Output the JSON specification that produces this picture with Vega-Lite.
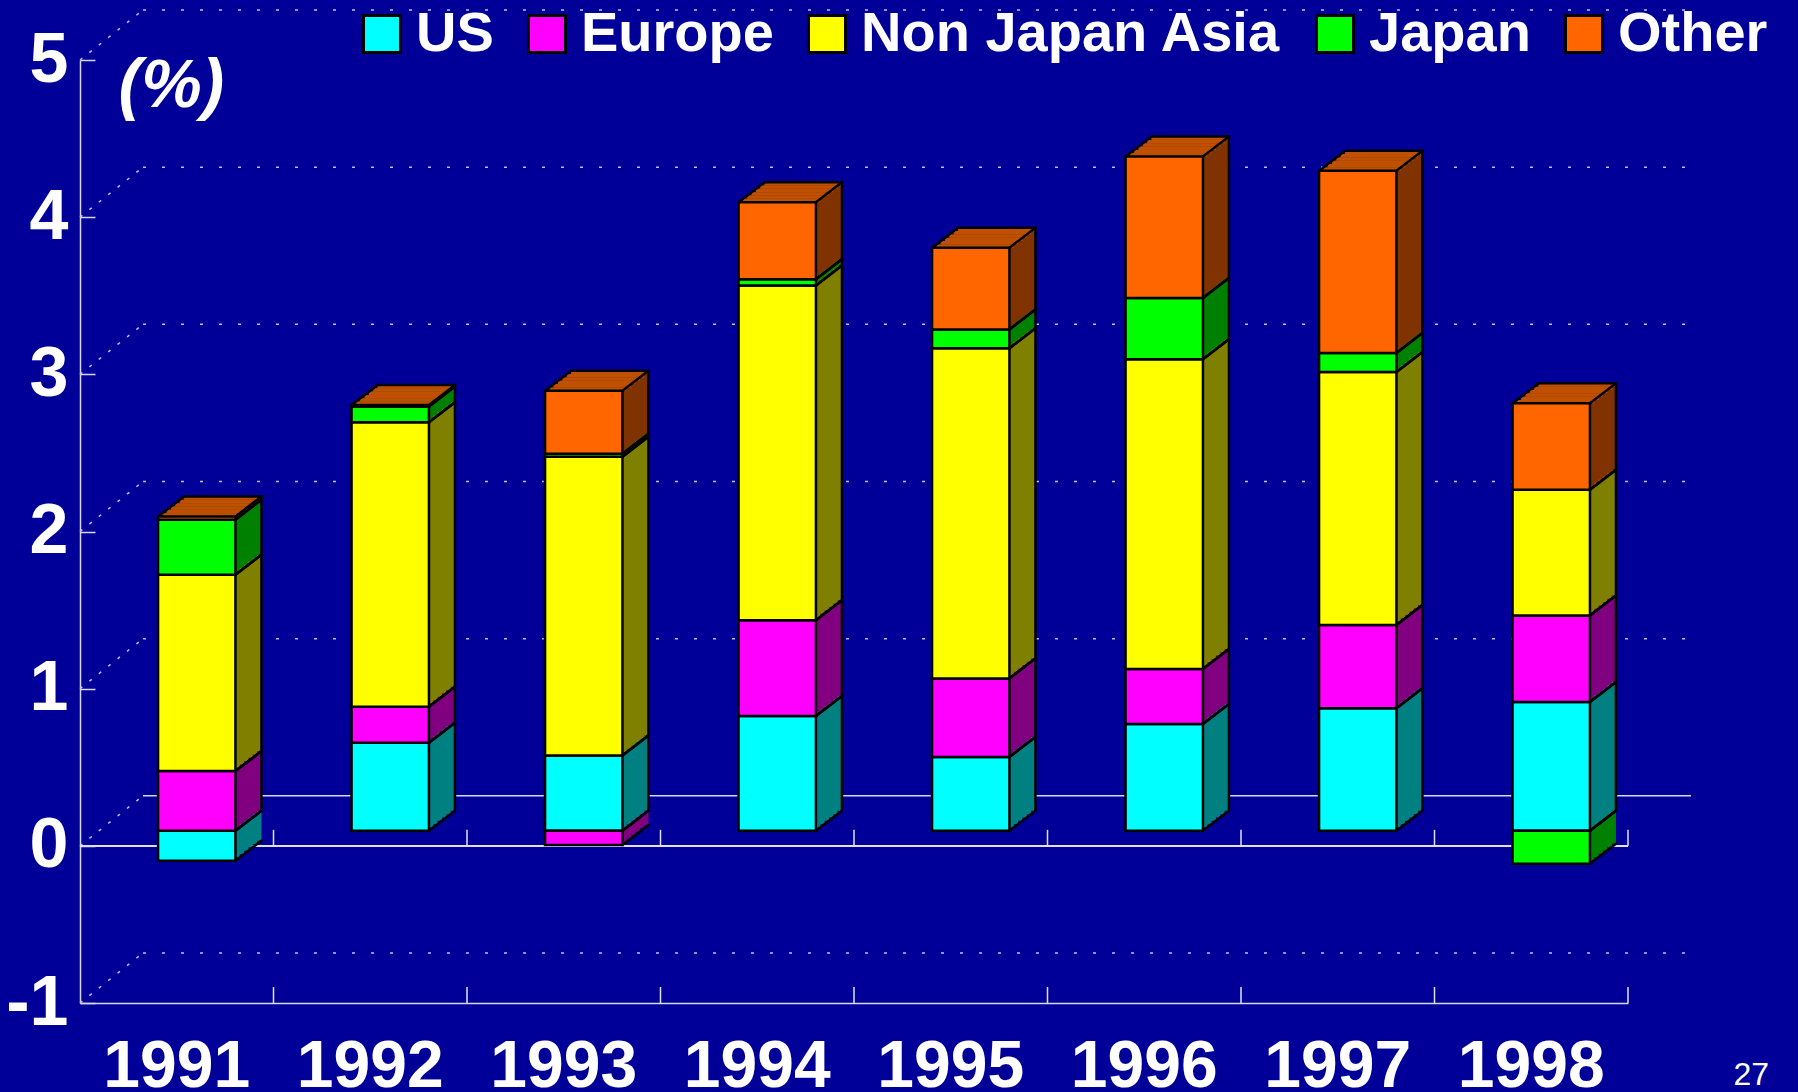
{
  "$schema": "https://vega.github.io/schema/vega-lite/v6.json",
  "width": 1548,
  "height": 943,
  "autosize": {"type": "none"},
  "padding": {"left": 80, "top": 60, "right": 170, "bottom": 89},
  "background": "#000099",
  "config": {
    "view": {"stroke": null},
    "font": "Liberation Sans",
    "axisX": {"labelAngle": 0, "labelFontSize": 66, "labelFont": "Liberation Sans", "labelFontWeight": "bold", "labelColor": "white", "ticks": false, "domain": true, "domainColor": "#d8d8ec", "domainWidth": 1.5, "labelPadding": 83, "labelBaseline": "alphabetic", "grid": false},
    "axisY": {"labelFontSize": 70, "labelFont": "Liberation Sans", "labelFontWeight": "bold", "labelColor": "white", "tickSize": -15, "tickColor": "#d8d8ec", "tickWidth": 1.5, "labelPadding": 27, "domainColor": "#d8d8ec", "domainWidth": 1.5, "grid": false, "labelFlush": false, "labelOverlap": false, "titleAngle": 0, "titleX": 38, "titleY": 46, "titleAlign": "left", "titleBaseline": "alphabetic", "titleFontSize": 68, "titleFontStyle": "italic", "titleFontWeight": "bold", "titleColor": "white", "titleFont": "Liberation Sans"}
  },
  "title": {"text": "27", "orient": "bottom", "anchor": "end", "frame": "group", "fontSize": 32, "font": "Liberation Sans", "fontWeight": "normal", "color": "white", "dx": 141, "dy": -43, "baseline": "top"},
  "data": {"values": [
    {"year": "1991", "region": "US", "v": -0.19},
    {"year": "1991", "region": "Europe", "v": 0.38},
    {"year": "1991", "region": "Non Japan Asia", "v": 1.25},
    {"year": "1991", "region": "Japan", "v": 0.35},
    {"year": "1991", "region": "Other", "v": 0.02},
    {"year": "1992", "region": "US", "v": 0.56},
    {"year": "1992", "region": "Europe", "v": 0.23},
    {"year": "1992", "region": "Non Japan Asia", "v": 1.81},
    {"year": "1992", "region": "Japan", "v": 0.10},
    {"year": "1992", "region": "Other", "v": 0.01},
    {"year": "1993", "region": "US", "v": 0.48},
    {"year": "1993", "region": "Europe", "v": -0.09},
    {"year": "1993", "region": "Non Japan Asia", "v": 1.90},
    {"year": "1993", "region": "Japan", "v": 0.02},
    {"year": "1993", "region": "Other", "v": 0.40},
    {"year": "1994", "region": "US", "v": 0.73},
    {"year": "1994", "region": "Europe", "v": 0.61},
    {"year": "1994", "region": "Non Japan Asia", "v": 2.13},
    {"year": "1994", "region": "Japan", "v": 0.04},
    {"year": "1994", "region": "Other", "v": 0.49},
    {"year": "1995", "region": "US", "v": 0.47},
    {"year": "1995", "region": "Europe", "v": 0.50},
    {"year": "1995", "region": "Non Japan Asia", "v": 2.10},
    {"year": "1995", "region": "Japan", "v": 0.12},
    {"year": "1995", "region": "Other", "v": 0.52},
    {"year": "1996", "region": "US", "v": 0.68},
    {"year": "1996", "region": "Europe", "v": 0.35},
    {"year": "1996", "region": "Non Japan Asia", "v": 1.97},
    {"year": "1996", "region": "Japan", "v": 0.39},
    {"year": "1996", "region": "Other", "v": 0.90},
    {"year": "1997", "region": "US", "v": 0.78},
    {"year": "1997", "region": "Europe", "v": 0.53},
    {"year": "1997", "region": "Non Japan Asia", "v": 1.61},
    {"year": "1997", "region": "Japan", "v": 0.12},
    {"year": "1997", "region": "Other", "v": 1.16},
    {"year": "1998", "region": "US", "v": 0.82},
    {"year": "1998", "region": "Europe", "v": 0.55},
    {"year": "1998", "region": "Non Japan Asia", "v": 0.80},
    {"year": "1998", "region": "Japan", "v": -0.21},
    {"year": "1998", "region": "Other", "v": 0.55}
  ]},
  "transform": [
    {"calculate": "indexof(['US','Europe','Non Japan Asia','Japan','Other'], datum.region)", "as": "k"},
    {"stack": "v", "groupby": ["year"], "sort": [{"field": "k", "order": "ascending"}], "as": ["v0", "v1"], "offset": "zero"}
  ],
  "layer": [
    {
      "data": {"values": [{"g": -1}, {"g": 1}, {"g": 2}, {"g": 3}, {"g": 4}, {"g": 5}]},
      "transform": [],
      "mark": {"type": "rule", "color": "#c0c0e0", "strokeWidth": 1.5, "strokeDash": [3, 16], "xOffset": 63, "x2Offset": 63, "yOffset": -50},
      "encoding": {
        "x": {"datum": "1991", "type": "nominal", "bandPosition": -0.75},
        "x2": {"datum": "1998", "bandPosition": 1.75},
        "y": {"field": "g", "type": "quantitative", "scale": {"domain": [-1, 5], "nice": false, "zero": false}}
      }
    },
    {
      "data": {"values": [{"g": 0}]},
      "transform": [],
      "mark": {"type": "rule", "color": "#d8d8ec", "strokeWidth": 1.5, "xOffset": 63, "x2Offset": 63, "yOffset": -50},
      "encoding": {
        "x": {"datum": "1991", "type": "nominal", "bandPosition": -0.75},
        "x2": {"datum": "1998", "bandPosition": 1.75},
        "y": {"field": "g", "type": "quantitative", "scale": {"domain": [-1, 5], "nice": false, "zero": false}}
      }
    },
    {
      "data": {"values": [{"g": -1}, {"g": 0}, {"g": 1}, {"g": 2}, {"g": 3}, {"g": 4}, {"g": 5}]},
      "transform": [],
      "mark": {"type": "rule", "color": "#c0c0e0", "strokeWidth": 1.5, "strokeDash": [3, 9], "x2Offset": 63, "y2Offset": -50},
      "encoding": {
        "x": {"datum": "1991", "type": "nominal", "bandPosition": -0.75},
        "x2": {"datum": "1991", "bandPosition": -0.75},
        "y": {"field": "g", "type": "quantitative", "scale": {"domain": [-1, 5], "nice": false, "zero": false}},
        "y2": {"field": "g"}
      }
    },
    {
      "mark": {"type": "rule", "color": "#e0e0f0", "strokeWidth": 1.5},
      "encoding": {"y": {"datum": 0, "type": "quantitative", "scale": {"domain": [-1, 5], "nice": false, "zero": false}}}
    },
    {
      "transform": [{"aggregate": [{"op": "max", "field": "v1", "as": "top"}], "groupby": ["year"]}],
      "mark": {"type": "rule", "color": "#e0e0f0", "strokeWidth": 1.5, "y2Offset": -16},
      "encoding": {
        "x": {"field": "year", "type": "nominal", "bandPosition": 1.75, "scale": {"paddingInner": 0.6, "paddingOuter": 0.3}},
        "y": {"datum": -1, "type": "quantitative", "scale": {"domain": [-1, 5], "nice": false, "zero": false}},
        "y2": {"datum": -1}
      }
    },
    {
      "transform": [{"aggregate": [{"op": "max", "field": "v1", "as": "top"}], "groupby": ["year"]}],
      "mark": {"type": "rule", "color": "#e0e0f0", "strokeWidth": 1.5, "y2Offset": -16},
      "encoding": {
        "x": {"field": "year", "type": "nominal", "bandPosition": 1.75},
        "y": {"datum": 0, "type": "quantitative", "scale": {"domain": [-1, 5], "nice": false, "zero": false}},
        "y2": {"datum": 0}
      }
    },
    {
      "mark": {"type": "bar", "xOffset": 46, "yOffset": -35, "y2Offset": -35, "strokeWidth": 0},
      "encoding": {
        "x": {"field": "year", "type": "nominal"},
        "y": {"field": "v1", "type": "quantitative", "scale": {"domain": [-1, 5], "nice": false, "zero": false}},
        "y2": {"field": "v0"},
        "fill": {"field": "region", "type": "nominal", "legend": null, "scale": {"domain": ["Europe", "Japan", "Non Japan Asia", "Other", "US"], "range": ["#800080", "#008000", "#808000", "#803300", "#008080"]}}
      }
    },
    {
      "mark": {"type": "bar", "xOffset": 41.67, "yOffset": -31.67, "y2Offset": -31.67, "strokeWidth": 0},
      "encoding": {
        "x": {"field": "year", "type": "nominal"},
        "y": {"field": "v1", "type": "quantitative", "scale": {"domain": [-1, 5], "nice": false, "zero": false}},
        "y2": {"field": "v0"},
        "fill": {"field": "region", "type": "nominal", "legend": null}
      }
    },
    {
      "mark": {"type": "bar", "xOffset": 37.33, "yOffset": -28.33, "y2Offset": -28.33, "strokeWidth": 0},
      "encoding": {
        "x": {"field": "year", "type": "nominal"},
        "y": {"field": "v1", "type": "quantitative", "scale": {"domain": [-1, 5], "nice": false, "zero": false}},
        "y2": {"field": "v0"},
        "fill": {"field": "region", "type": "nominal", "legend": null}
      }
    },
    {
      "mark": {"type": "bar", "xOffset": 33, "yOffset": -25, "y2Offset": -25, "strokeWidth": 0},
      "encoding": {
        "x": {"field": "year", "type": "nominal"},
        "y": {"field": "v1", "type": "quantitative", "scale": {"domain": [-1, 5], "nice": false, "zero": false}},
        "y2": {"field": "v0"},
        "fill": {"field": "region", "type": "nominal", "legend": null}
      }
    },
    {
      "mark": {"type": "bar", "xOffset": 28.67, "yOffset": -21.67, "y2Offset": -21.67, "strokeWidth": 0},
      "encoding": {
        "x": {"field": "year", "type": "nominal"},
        "y": {"field": "v1", "type": "quantitative", "scale": {"domain": [-1, 5], "nice": false, "zero": false}},
        "y2": {"field": "v0"},
        "fill": {"field": "region", "type": "nominal", "legend": null}
      }
    },
    {
      "mark": {"type": "bar", "xOffset": 24.33, "yOffset": -18.33, "y2Offset": -18.33, "strokeWidth": 0},
      "encoding": {
        "x": {"field": "year", "type": "nominal"},
        "y": {"field": "v1", "type": "quantitative", "scale": {"domain": [-1, 5], "nice": false, "zero": false}},
        "y2": {"field": "v0"},
        "fill": {"field": "region", "type": "nominal", "legend": null}
      }
    },
    {
      "transform": [{"aggregate": [{"op": "max", "field": "v1", "as": "top"}], "groupby": ["year"]}],
      "mark": {"type": "bar", "color": "#BF5000", "xOffset": 46, "yOffset": -35, "y2Offset": -31.67, "strokeWidth": 0},
      "encoding": {
        "x": {"field": "year", "type": "nominal"},
        "y": {"field": "top", "type": "quantitative", "scale": {"domain": [-1, 5], "nice": false, "zero": false}},
        "y2": {"field": "top"}
      }
    },
    {
      "transform": [{"aggregate": [{"op": "max", "field": "v1", "as": "top"}], "groupby": ["year"]}],
      "mark": {"type": "bar", "color": "#BF5000", "xOffset": 41.67, "yOffset": -31.67, "y2Offset": -28.33, "strokeWidth": 0},
      "encoding": {
        "x": {"field": "year", "type": "nominal"},
        "y": {"field": "top", "type": "quantitative", "scale": {"domain": [-1, 5], "nice": false, "zero": false}},
        "y2": {"field": "top"}
      }
    },
    {
      "transform": [{"aggregate": [{"op": "max", "field": "v1", "as": "top"}], "groupby": ["year"]}],
      "mark": {"type": "bar", "color": "#BF5000", "xOffset": 37.33, "yOffset": -28.33, "y2Offset": -25, "strokeWidth": 0},
      "encoding": {
        "x": {"field": "year", "type": "nominal"},
        "y": {"field": "top", "type": "quantitative", "scale": {"domain": [-1, 5], "nice": false, "zero": false}},
        "y2": {"field": "top"}
      }
    },
    {
      "transform": [{"aggregate": [{"op": "max", "field": "v1", "as": "top"}], "groupby": ["year"]}],
      "mark": {"type": "bar", "color": "#BF5000", "xOffset": 33, "yOffset": -25, "y2Offset": -21.67, "strokeWidth": 0},
      "encoding": {
        "x": {"field": "year", "type": "nominal"},
        "y": {"field": "top", "type": "quantitative", "scale": {"domain": [-1, 5], "nice": false, "zero": false}},
        "y2": {"field": "top"}
      }
    },
    {
      "transform": [{"aggregate": [{"op": "max", "field": "v1", "as": "top"}], "groupby": ["year"]}],
      "mark": {"type": "bar", "color": "#BF5000", "xOffset": 28.67, "yOffset": -21.67, "y2Offset": -18.33, "strokeWidth": 0},
      "encoding": {
        "x": {"field": "year", "type": "nominal"},
        "y": {"field": "top", "type": "quantitative", "scale": {"domain": [-1, 5], "nice": false, "zero": false}},
        "y2": {"field": "top"}
      }
    },
    {
      "transform": [{"aggregate": [{"op": "max", "field": "v1", "as": "top"}], "groupby": ["year"]}],
      "mark": {"type": "bar", "color": "#BF5000", "xOffset": 24.33, "yOffset": -18.33, "y2Offset": -15, "strokeWidth": 0},
      "encoding": {
        "x": {"field": "year", "type": "nominal"},
        "y": {"field": "top", "type": "quantitative", "scale": {"domain": [-1, 5], "nice": false, "zero": false}},
        "y2": {"field": "top"}
      }
    },
    {
      "transform": [{"aggregate": [{"op": "max", "field": "v1", "as": "top"}, {"op": "min", "field": "v0", "as": "bot"}], "groupby": ["year"]}],
      "mark": {"type": "rule", "color": "black", "strokeWidth": 2.5, "xOffset": 46, "yOffset": -35, "y2Offset": -35},
      "encoding": {
        "x": {"field": "year", "type": "nominal", "bandPosition": 1},
        "y": {"field": "top", "type": "quantitative", "scale": {"domain": [-1, 5], "nice": false, "zero": false}},
        "y2": {"field": "bot"}
      }
    },
    {
      "transform": [{"aggregate": [{"op": "max", "field": "v1", "as": "top"}], "groupby": ["year"]}],
      "mark": {"type": "rule", "color": "black", "strokeWidth": 2.5, "strokeCap": "round", "xOffset": 46, "x2Offset": 46, "yOffset": -35},
      "encoding": {
        "x": {"field": "year", "type": "nominal", "bandPosition": 0},
        "x2": {"field": "year", "bandPosition": 1},
        "y": {"field": "top", "type": "quantitative", "scale": {"domain": [-1, 5], "nice": false, "zero": false}}
      }
    },
    {
      "transform": [{"aggregate": [{"op": "max", "field": "v1", "as": "top"}], "groupby": ["year"]}],
      "mark": {"type": "rule", "color": "black", "strokeWidth": 2.5, "strokeCap": "round", "xOffset": 20, "x2Offset": 46, "yOffset": -15, "y2Offset": -35},
      "encoding": {
        "x": {"field": "year", "type": "nominal", "bandPosition": 0},
        "x2": {"field": "year", "bandPosition": 0},
        "y": {"field": "top", "type": "quantitative", "scale": {"domain": [-1, 5], "nice": false, "zero": false}},
        "y2": {"field": "top"}
      }
    },
    {
      "mark": {"type": "rule", "color": "black", "strokeWidth": 2.5, "strokeCap": "round", "xOffset": 20, "x2Offset": 46, "yOffset": -15, "y2Offset": -35},
      "encoding": {
        "x": {"field": "year", "type": "nominal", "bandPosition": 1},
        "x2": {"field": "year", "bandPosition": 1},
        "y": {"field": "v1", "type": "quantitative", "scale": {"domain": [-1, 5], "nice": false, "zero": false}},
        "y2": {"field": "v1"}
      }
    },
    {
      "mark": {"type": "rule", "color": "black", "strokeWidth": 2.5, "strokeCap": "round", "xOffset": 20, "x2Offset": 46, "yOffset": -15, "y2Offset": -35},
      "encoding": {
        "x": {"field": "year", "type": "nominal", "bandPosition": 1},
        "x2": {"field": "year", "bandPosition": 1},
        "y": {"field": "v0", "type": "quantitative", "scale": {"domain": [-1, 5], "nice": false, "zero": false}},
        "y2": {"field": "v0"}
      }
    },
    {
      "mark": {"type": "bar", "stroke": "black", "strokeWidth": 2.5, "xOffset": 20, "yOffset": -15, "y2Offset": -15},
      "encoding": {
        "x": {
          "field": "year", "type": "nominal",
          "scale": {"paddingInner": 0.6, "paddingOuter": 0.3},
          "axis": {"title": null}
        },
        "y": {
          "field": "v1", "type": "quantitative",
          "scale": {"domain": [-1, 5], "nice": false, "zero": false},
          "axis": {"title": "(%)", "values": [-1, 0, 1, 2, 3, 4, 5], "labelExpr": "'' + datum.value"}
        },
        "y2": {"field": "v0"},
        "color": {
          "field": "region", "type": "nominal",
          "scale": {"domain": ["US", "Europe", "Non Japan Asia", "Japan", "Other"], "range": ["#00FFFF", "#FF00FF", "#FFFF00", "#00FF00", "#FF6600"]},
          "legend": {"title": null, "orient": "none", "legendX": 274, "legendY": -54, "direction": "horizontal", "symbolType": "square", "symbolSize": 1369, "symbolStrokeWidth": 3, "symbolStrokeColor": "black", "symbolOpacity": 1, "labelFontSize": 56, "labelFont": "Liberation Sans", "labelFontWeight": "bold", "labelColor": "white", "labelOffset": 6, "columnPadding": 25, "padding": 0, "labelLimit": 0}
        }
      }
    }
  ]
}
